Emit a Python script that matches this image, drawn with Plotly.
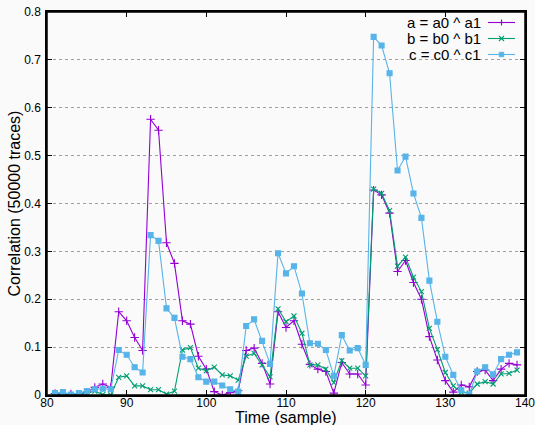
import plotly.graph_objects as go

samples = list(range(81, 140))
series_a = [0.003, 0.000, 0.002, 0.001, 0.006, 0.016, 0.023, 0.016, 0.174, 0.155,
            0.120, 0.093, 0.576, 0.553, 0.318, 0.275, 0.155, 0.148, 0.081, 0.054,
            0.007, 0.000, 0.005, 0.009, 0.093, 0.098, 0.066, 0.023, 0.174, 0.141,
            0.155, 0.106, 0.064, 0.054, 0.049, 0.004, 0.068, 0.044, 0.044, 0.021,
            0.428, 0.418, 0.380, 0.258, 0.281, 0.235, 0.200, 0.122, 0.073, 0.030,
            0.006, 0.021, 0.017, 0.049, 0.052, 0.030, 0.054, 0.066, 0.063]
series_b = [0.002, 0.003, 0.001, 0.002, 0.004, 0.008, 0.001, 0.000, 0.037, 0.040,
            0.019, 0.019, 0.011, 0.011, 0.002, 0.008, 0.094, 0.099, 0.056, 0.051,
            0.058, 0.042, 0.040, 0.031, 0.081, 0.087, 0.063, 0.038, 0.180, 0.153,
            0.165, 0.129, 0.063, 0.063, 0.054, 0.026, 0.072, 0.056, 0.056, 0.040,
            0.430, 0.421, 0.385, 0.269, 0.288, 0.246, 0.216, 0.139, 0.095, 0.047,
            0.019, 0.006, 0.004, 0.023, 0.028, 0.023, 0.044, 0.045, 0.052]
series_c = [0.004, 0.006, 0.001, 0.004, 0.008, 0.012, 0.013, 0.012, 0.094, 0.084,
            0.058, 0.047, 0.334, 0.322, 0.181, 0.161, 0.080, 0.075, 0.037, 0.028,
            0.028, 0.020, 0.012, 0.007, 0.144, 0.158, 0.113, 0.065, 0.296, 0.254,
            0.269, 0.212, 0.108, 0.107, 0.094, 0.040, 0.125, 0.093, 0.098, 0.063,
            0.748, 0.730, 0.672, 0.469, 0.498, 0.421, 0.370, 0.239, 0.153, 0.080,
            0.042, 0.010, 0.001, 0.049, 0.058, 0.043, 0.075, 0.084, 0.089]

names = ["a = a0 ^ a1", "b = b0 ^ b1", "c = c0 ^ c1"]
colors = ["#9400D3", "#009E73", "#56B4E9"]
symbols = ["cross-thin-open", "x-thin-open", "square"]
sizes = [6, 5, 5]
x_ticks = [80, 90, 100, 110, 120, 130, 140]
y_ticks = [0, 0.1, 0.2, 0.3, 0.4, 0.5, 0.6, 0.7, 0.8]
y_tick_labels = ["0", "0.1", "0.2", "0.3", "0.4", "0.5", "0.6", "0.7", "0.8"]

W, H = 535, 425
ML, MR, MT, MB = 47, 10, 12, 30
PW, PH = W - ML - MR, H - MT - MB
FONT = "Liberation Sans, Arial, sans-serif"

fig = go.Figure()
for ys, name, col, sym, sz in zip([series_a, series_b, series_c], names, colors, symbols, sizes):
    fig.add_trace(go.Scatter(
        x=samples, y=ys, name=name, mode="lines+markers",
        line=dict(color=col, width=1.1),
        marker=dict(symbol=sym, size=sz, color=col, line=dict(color=col, width=1.1)),
        showlegend=False,
    ))

# gnuplot-style key: text right-aligned, line sample with point to its right
key_rows_px = [22.5, 38.5, 54.5]
key_x0_px, key_x1_px, key_text_px = 488, 515, 482


def px_x(p):
    return (p - ML) / PW


def px_y(p):
    return (H - MB - p) / PH


for row, name, col, kind in zip(key_rows_px, names, colors, ["plus", "x", "square"]):
    ky = px_y(row)
    fig.add_shape(type="line", xref="paper", yref="paper", x0=px_x(key_x0_px), x1=px_x(key_x1_px),
                  y0=ky, y1=ky, line=dict(color=col, width=1.1))
    fig.add_annotation(xref="paper", yref="paper", x=px_x(key_text_px), y=ky, text=name,
                       showarrow=False, xanchor="right", yanchor="middle", borderpad=0,
                       font=dict(size=15, color="black", family=FONT))
    cx = (key_x0_px + key_x1_px) / 2
    if kind == "plus":
        fig.add_shape(type="line", xref="paper", yref="paper", x0=px_x(cx - 3), x1=px_x(cx + 3),
                      y0=ky, y1=ky, line=dict(color=col, width=1.1))
        fig.add_shape(type="line", xref="paper", yref="paper", x0=px_x(cx), x1=px_x(cx),
                      y0=px_y(row - 3), y1=px_y(row + 3), line=dict(color=col, width=1.1))
    elif kind == "x":
        fig.add_shape(type="line", xref="paper", yref="paper", x0=px_x(cx - 2.5), x1=px_x(cx + 2.5),
                      y0=px_y(row - 2.5), y1=px_y(row + 2.5), line=dict(color=col, width=1.1))
        fig.add_shape(type="line", xref="paper", yref="paper", x0=px_x(cx - 2.5), x1=px_x(cx + 2.5),
                      y0=px_y(row + 2.5), y1=px_y(row - 2.5), line=dict(color=col, width=1.1))
    else:
        fig.add_shape(type="rect", xref="paper", yref="paper", x0=px_x(cx - 2.2), x1=px_x(cx + 2.2),
                      y0=px_y(row - 2.2), y1=px_y(row + 2.2), line=dict(color=col, width=1),
                      fillcolor=col)

# plot frame (border on all four sides)
fig.add_shape(type="rect", xref="paper", yref="paper", x0=0, x1=1, y0=0, y1=1,
              line=dict(color="black", width=1.5), layer="above")

# x-axis title placed like gnuplot's (close under the tick labels)
fig.add_annotation(xref="paper", yref="paper", x=0.5, y=px_y(417), text="Time (sample)",
                   showarrow=False, xanchor="center", yanchor="middle", borderpad=0,
                   font=dict(size=16, color="black", family=FONT))

fig.update_layout(
    width=W, height=H,
    margin=dict(l=ML, r=MR, t=MT, b=MB),
    paper_bgcolor="#fafafa", plot_bgcolor="#fafafa",
    font=dict(family=FONT, size=12, color="black"),
    xaxis=dict(range=[80, 140], tickvals=x_ticks, ticks="inside", ticklen=5, tickwidth=1,
               tickcolor="black", showline=True, linecolor="black", linewidth=1.5, mirror="ticks",
               showgrid=False, zeroline=False, tickfont=dict(size=12), automargin=False,
               ticklabeloverflow="allow", ticklabelstandoff=-4),
    yaxis=dict(range=[0, 0.8], tickvals=y_ticks, ticktext=y_tick_labels, ticks="inside", ticklen=5,
               tickwidth=1, tickcolor="black", showline=True, linecolor="black", linewidth=1.5,
               mirror="ticks", showgrid=True, gridcolor="#a0a0a0", griddash="dot", gridwidth=1,
               zeroline=False, tickfont=dict(size=12), automargin=False,
               ticklabeloverflow="allow", ticklabelstandoff=2,
               title=dict(text="Correlation (50000 traces)", font=dict(size=16), standoff=0)),
)

fig.write_html("out.html", config={"displayModeBar": False},
               post_script="document.body.style.margin='0';document.body.style.overflow='hidden';")
